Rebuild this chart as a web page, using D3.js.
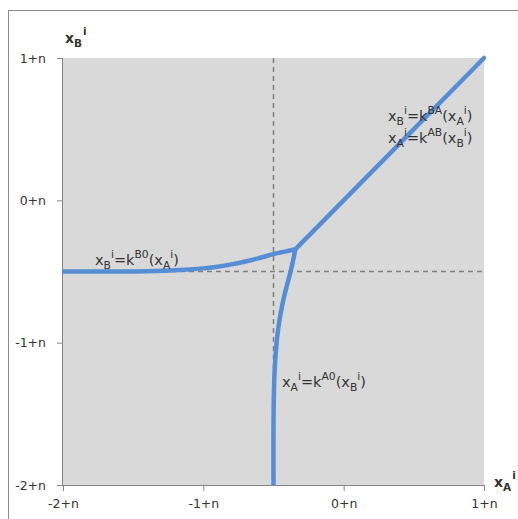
<!DOCTYPE html>
<html><head><meta charset="utf-8">
<script src="https://cdn.jsdelivr.net/npm/d3@7"></script>
<style>
html,body{margin:0;padding:0;background:#fff;}
text{font-family:"DejaVu Sans",Verdana,sans-serif;fill:#333;}
</style></head>
<body>
<svg id="chart" width="518" height="519"></svg>
<script>
// ---- data ----
const tickValues = [-2, -1, 0, 1];
const tickLabels = ["-2+n", "-1+n", "0+n", "1+n"];
const refX = -0.5;   // vertical dashed reference
const refY = -0.5;   // horizontal dashed reference
// k^{B0}: x_B as function of x_A
const kB0X = [-2, -1.6, -1.4, -1.2, -1.0, -0.9, -0.8, -0.7, -0.6, -0.5, -0.42, -0.35];
const kB0Y = [-0.5, -0.5, -0.498, -0.492, -0.478, -0.466, -0.45, -0.43, -0.405, -0.378, -0.36, -0.345];
// k^{A0}: x_A as function of x_B
const kA0X = [-0.5, -0.5, -0.498, -0.492, -0.478, -0.466, -0.45, -0.43, -0.405, -0.378, -0.36, -0.345];
const kA0Y = [-2, -1.6, -1.4, -1.2, -1.0, -0.9, -0.8, -0.7, -0.6, -0.5, -0.42, -0.35];
// k^{BA} / k^{AB}: diagonal branch
const kBAX = [-0.35, 1];
const kBAY = [-0.35, 1];

// ---- layout ----
const svg = d3.select("#chart");
const x = d3.scaleLinear().domain([-2, 1]).range([63, 484]);
const y = d3.scaleLinear().domain([-2, 1]).range([485, 58]);
const blue = "#558ed5";

// outer frame
svg.append("rect").attr("x", 8.5).attr("y", 10.5).attr("width", 530).attr("height", 530)
  .attr("fill", "#fff").attr("stroke", "#8c8c8c").attr("stroke-width", 1);

// plot area
svg.append("rect").attr("x", x(-2)).attr("y", y(1))
  .attr("width", x(1) - x(-2)).attr("height", y(-2) - y(1)).attr("fill", "#d9d9d9");

// axes
const xAxis = d3.axisBottom(x).tickValues(tickValues).tickFormat((d, i) => tickLabels[i]).tickSize(6).tickPadding(8);
const yAxis = d3.axisLeft(y).tickValues(tickValues).tickFormat((d, i) => tickLabels[i]).tickSize(6).tickPadding(11);
const gx = svg.append("g").attr("transform", `translate(0,${y(-2)})`).call(xAxis);
const gy = svg.append("g").attr("transform", `translate(${x(-2)},0)`).call(yAxis);
[gx, gy].forEach(g => {
  g.select(".domain").remove();
  g.selectAll(".tick line").attr("stroke", "#868686");
  g.selectAll(".tick text").style("font-size", "12.5px").attr("fill", "#333");
});
svg.append("line").attr("x1", x(-2)).attr("x2", x(1)).attr("y1", y(-2) + 0.5).attr("y2", y(-2) + 0.5)
  .attr("stroke", "#868686");
svg.append("line").attr("x1", x(-2) - 0.5).attr("x2", x(-2) - 0.5).attr("y1", y(1)).attr("y2", y(-2))
  .attr("stroke", "#868686");

// dashed reference lines
svg.append("line").attr("x1", x(refX)).attr("x2", x(refX)).attr("y1", y(1)).attr("y2", y(-2))
  .attr("stroke", "#7f7f7f").attr("stroke-width", 1.5).attr("stroke-dasharray", "5,4");
svg.append("line").attr("x1", x(-2)).attr("x2", x(1)).attr("y1", y(refY)).attr("y2", y(refY))
  .attr("stroke", "#7f7f7f").attr("stroke-width", 1.5).attr("stroke-dasharray", "5,4");

// curves
const lineC = d3.line().x(d => x(d[0])).y(d => y(d[1])).curve(d3.curveCatmullRom.alpha(0.5));
const lineL = d3.line().x(d => x(d[0])).y(d => y(d[1]));
const curveStyle = p => p.attr("fill", "none").attr("stroke", blue).attr("stroke-width", 4.5)
  .attr("stroke-linejoin", "round").attr("stroke-linecap", "butt");
svg.append("path").attr("d", lineC(kB0X.map((v, i) => [v, kB0Y[i]]))).call(curveStyle);
svg.append("path").attr("d", lineC(kA0X.map((v, i) => [v, kA0Y[i]]))).call(curveStyle);
svg.append("path").attr("d", lineL(kBAX.map((v, i) => [v, kBAY[i]]))).call(curveStyle).attr("stroke-linecap", "round");

// equation: x_{a}^{i}=k^{sup}(x_{b}^{i})
function eq(a, sup, b, px, py, size) {
  const s = size, sub = s * 0.3, sp = s * 0.45;
  const t = svg.append("text").attr("x", px).attr("y", py).style("font-size", s + "px").attr("fill", "#333");
  const small = (s * 0.74) + "px";
  t.append("tspan").text("x");
  t.append("tspan").text(a).style("font-size", small).attr("dy", sub);
  t.append("tspan").text("i").style("font-size", small).attr("dy", -sub - sp);
  t.append("tspan").text("=k").attr("dy", sp);
  t.append("tspan").text(sup).style("font-size", small).attr("dy", -sp);
  t.append("tspan").text("(x").attr("dy", sp);
  t.append("tspan").text(b).style("font-size", small).attr("dy", sub);
  t.append("tspan").text("i").style("font-size", small).attr("dy", -sub - sp);
  t.append("tspan").text(")").attr("dy", sp);
}
eq("B", "BA", "A", 388, 121, 14.5);
eq("A", "AB", "B", 388, 143, 14.5);
eq("B", "B0", "A", 95, 265, 14.5);
eq("A", "A0", "B", 282, 387, 14.5);

// axis titles
function axTitle(sub, px, py) {
  const s = 14;
  const t = svg.append("text").attr("x", px).attr("y", py).style("font-size", s + "px")
    .style("font-weight", "bold").attr("fill", "#333");
  t.append("tspan").text("x");
  t.append("tspan").text(sub).style("font-size", (s * 0.75) + "px").attr("dy", s * 0.3);
  t.append("tspan").text("i").style("font-size", (s * 0.75) + "px").attr("dy", -s * 0.85).attr("dx", 1);
}
axTitle("B", 65, 43);
axTitle("A", 494, 487);
</script>
</body></html>
